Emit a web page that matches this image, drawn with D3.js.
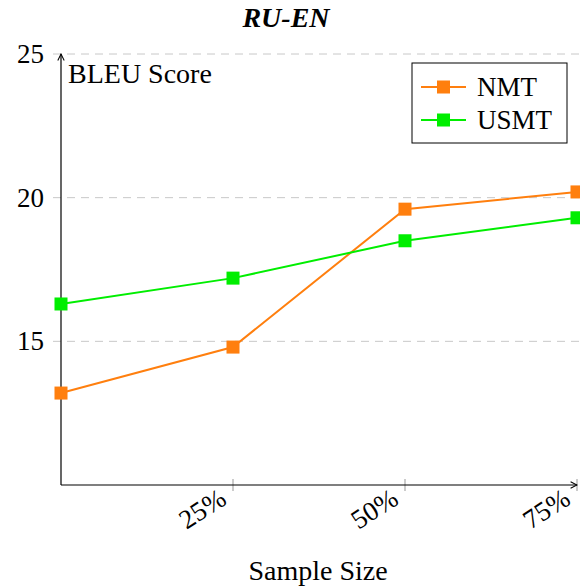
<!DOCTYPE html>
<html><head><meta charset="utf-8">
<script src="https://cdn.jsdelivr.net/npm/d3@7"></script>
<style>body{margin:0;background:#fff}svg{display:block}</style>
</head><body><svg id="c" width="580" height="587" font-family="'Liberation Serif', Tinos, 'Times New Roman', Times, serif"></svg>
<script>
const samples = [0, 25, 50, 75];
const xTickValues = [25, 50, 75];
const xTickLabels = ["25%", "50%", "75%"];
const yTickValues = [15, 20, 25];
const nmt = [13.2, 14.8, 19.6, 20.2];
const usmt = [16.3, 17.2, 18.5, 19.3];
const seriesNames = ["NMT", "USMT"];
const seriesColors = ["#ff7f0e", "#00ee00"];

const svg = d3.select("#c");
const x = d3.scaleLinear().domain([0, 75]).range([61, 577]);
const y = d3.scaleLinear().domain([10, 25]).range([485, 54]);

// grid
svg.append("g").selectAll("line").data(yTickValues).join("line")
  .attr("x1", 53).attr("x2", 580).attr("y1", d => y(d)).attr("y2", d => y(d))
  .attr("stroke", "#c8c8c8").attr("stroke-width", 1).attr("stroke-dasharray", "8,6");

// y labels
svg.append("g").selectAll("text").data(yTickValues).join("text")
  .attr("x", 44).attr("y", d => y(d)).attr("dy", "0.33em").attr("text-anchor", "end")
  .attr("font-size", 27).text(d => d);

// x ticks
svg.append("g").selectAll("line").data(xTickValues).join("line")
  .attr("x1", d => x(d)).attr("x2", d => x(d)).attr("y1", y(10) - 6).attr("y2", y(10) + 6)
  .attr("stroke", "#999").attr("stroke-width", 1);
svg.append("g").selectAll("text").data(xTickValues).join("text")
  .attr("text-anchor", "end").attr("font-size", 27)
  .attr("transform", d => `translate(${x(d) - 16},${y(10) + 1}) rotate(-33)`)
  .attr("dy", "0.75em")
  .text((d, i) => xTickLabels[i]);

// axes with arrows
const defs = svg.append("defs");
defs.append("marker").attr("id", "arr").attr("viewBox", "0 0 10 10").attr("refX", 9).attr("refY", 5)
  .attr("markerWidth", 8).attr("markerHeight", 8).attr("orient", "auto-start-reverse")
  .attr("markerUnits", "userSpaceOnUse")
  .append("path").attr("d", "M1,1 L9,5 L1,9").attr("fill", "none").attr("stroke", "#000").attr("stroke-width", 1.3);
svg.append("line").attr("x1", x(0)).attr("x2", x(0)).attr("y1", y(10)).attr("y2", y(25))
  .attr("stroke", "#000").attr("stroke-width", 1.2).attr("marker-end", "url(#arr)");
svg.append("line").attr("x1", x(0)).attr("x2", x(75)).attr("y1", y(10)).attr("y2", y(10))
  .attr("stroke", "#000").attr("stroke-width", 1.2).attr("marker-end", "url(#arr)");

// series
const line = d3.line().x((d, i) => x(samples[i])).y(d => y(d));
[nmt, usmt].forEach((s, k) => {
  svg.append("path").datum(s).attr("d", line).attr("fill", "none")
    .attr("stroke", seriesColors[k]).attr("stroke-width", 2);
  svg.append("g").selectAll("rect").data(s).join("rect")
    .attr("x", (d, i) => x(samples[i]) - 6.5).attr("y", d => y(d) - 6.5)
    .attr("width", 13).attr("height", 13).attr("fill", seriesColors[k]);
});

// labels
svg.append("text").attr("x", 286).attr("y", 27).attr("text-anchor", "middle")
  .attr("font-size", 28).attr("font-weight", "bold").attr("font-style", "italic").text("RU-EN");
svg.append("text").attr("x", 68).attr("y", 83).attr("font-size", 28).text("BLEU Score");
svg.append("text").attr("x", 318).attr("y", 580).attr("text-anchor", "middle").attr("font-size", 28).text("Sample Size");

// legend
const lg = svg.append("g");
lg.append("rect").attr("x", 412).attr("y", 63).attr("width", 155).attr("height", 80)
  .attr("fill", "#fff").attr("stroke", "#000").attr("stroke-width", 1);
seriesNames.forEach((n, k) => {
  const yy = 87 + k * 33;
  lg.append("line").attr("x1", 421).attr("x2", 466).attr("y1", yy).attr("y2", yy)
    .attr("stroke", seriesColors[k]).attr("stroke-width", 2);
  lg.append("rect").attr("x", 437).attr("y", yy - 6.5).attr("width", 13).attr("height", 13).attr("fill", seriesColors[k]);
  lg.append("text").attr("x", 477).attr("y", yy).attr("dy", "0.35em").attr("font-size", 27).text(n);
});
</script></body></html>
